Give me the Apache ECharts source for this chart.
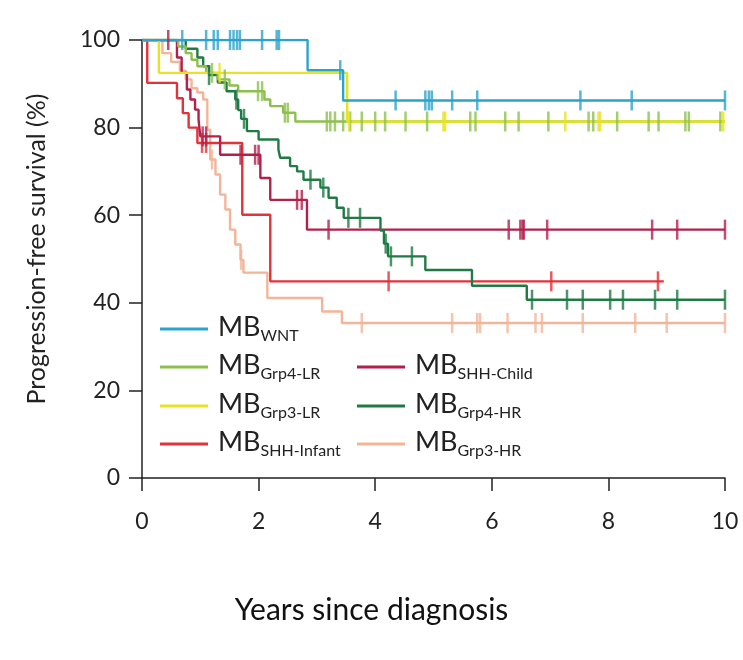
<!DOCTYPE html>
<html>
<head>
<meta charset="utf-8">
<script src="https://cdn.jsdelivr.net/npm/echarts@6/dist/echarts.min.js"></script>
<style>
  html, body { margin: 0; padding: 0; background: #fff; }
  #chart { width: 743px; height: 660px; }
</style>
</head>
<body>
<div id="chart"></div>
<script>
// axis ticks
let xTicks = [0, 2, 4, 6, 8, 10];
let yTicks = [0, 20, 40, 60, 80, 100];

// Kaplan-Meier steps [years, % PFS] and censor marks
let wntSteps = [[0,100],[2.84,93.1],[3.45,86.2],[10,86.2]];
let wntCensor = [[0.69,100],[1.1,100],[1.23,100],[1.3,100],[1.51,100],[1.57,100],[1.63,100],[1.68,100],[2.06,100],[2.31,100],[2.35,100],
  [3.4,93.1],[4.35,86.2],[4.86,86.2],[4.92,86.2],[4.97,86.2],[5.32,86.2],[5.75,86.2],[7.52,86.2],[8.4,86.2],[10,86.2]];

let grp4lrSteps = [[0,100],[0.62,98.5],[0.75,97],[0.85,95.5],[0.95,94],[1.1,92.5],[1.3,91],[1.5,89.6],[1.65,88.3],[2.1,86.4],[2.2,84.9],[2.42,83.4],[2.63,81.4],[10,81.4]];
let grp4lrCensor = [[1.2,92.5],[1.42,91],[1.99,88.3],[2.06,88.3],[2.45,83.4],[2.5,83.4],[3.17,81.4],[3.23,81.4],[3.31,81.4],[3.45,81.4],[3.57,81.4],[3.77,81.4],
  [4.0,81.4],[4.17,81.4],[4.52,81.4],[4.89,81.4],[5.63,81.4],[5.72,81.4],[6.23,81.4],[6.46,81.4],[6.97,81.4],[7.66,81.4],[7.74,81.4],[8.15,81.4],
  [8.69,81.4],[8.86,81.4],[9.32,81.4],[9.38,81.4],[9.92,81.4]];

let grp3lrSteps = [[0,100],[0.29,92.5],[3.52,81.4],[10,81.4]];
let grp3lrCensor = [[1.33,92.5],[3.55,81.4],[5.17,81.4],[5.2,81.4],[7.26,81.4],[7.83,81.4],[7.86,81.4],[9.97,81.4]];

let shhInfantSteps = [[0,100],[0.09,90.2],[0.6,86.7],[0.7,83.3],[0.8,80],[0.95,76.5],[1.72,60.1],[2.2,44.9],[8.95,44.9]];
let shhInfantCensor = [[1.03,76.5],[1.1,76.5],[4.23,44.9],[7.02,44.9],[8.85,44.9]];

let shhChildSteps = [[0,100],[0.6,96],[0.68,92.5],[0.77,88.7],[0.83,86.4],[0.91,84.1],[0.97,81.8],[1.0,78],[1.34,73.8],[2.03,68.5],[2.2,63.5],[2.83,56.7],[10,56.7]];
let shhChildCensor = [[0.45,100],[1.04,78],[1.1,78],[1.69,73.8],[1.94,73.8],[2.0,73.8],[2.66,63.5],[2.74,63.5],[3.2,56.7],[6.29,56.7],[6.49,56.7],
  [6.53,56.7],[6.55,56.7],[6.95,56.7],[8.75,56.7],[9.18,56.7],[10,56.7]];

let grp4hrSteps = [[0,100],[0.75,98],[0.95,96],[1.05,94],[1.15,92],[1.3,90.3],[1.45,88.3],[1.6,86.4],[1.65,84],[1.7,82],[1.8,79.2],[2.0,77.3],
  [2.34,75],[2.37,73.1],[2.54,71.2],[2.66,70],[2.77,68.1],[3.06,66.3],[3.2,64],[3.34,61.7],[3.46,59.4],[4.09,56.5],[4.15,53.5],[4.22,50.6],
  [4.86,47.5],[5.66,43.9],[6.6,40.7],[10,40.7]];
let grp4hrCensor = [[1.15,92],[1.62,86.4],[1.75,82],[2.89,68.1],[3.11,66.3],[3.54,59.4],[3.74,59.4],[4.18,53.5],[4.27,50.6],[4.63,50.6],
  [6.69,40.7],[7.29,40.7],[7.56,40.7],[8.03,40.7],[8.25,40.7],[8.8,40.7],[9.18,40.7],[10,40.7]];

let grp3hrSteps = [[0,100],[0.35,97],[0.5,95],[0.65,93],[0.75,91],[0.85,89],[0.95,88],[1.05,86.4],[1.12,79.5],[1.17,72.7],[1.26,69.3],
  [1.34,64.7],[1.43,61.3],[1.51,56.7],[1.6,53.3],[1.69,49.8],[1.74,46.9],[2.15,41.1],[3.09,38],[3.43,35.4],[10,35.4]];
let grp3hrCensor = [[1.2,72.7],[1.7,49.8],[3.77,35.4],[5.32,35.4],[5.75,35.4],[5.8,35.4],[6.27,35.4],[6.75,35.4],[6.86,35.4],[7.56,35.4],
  [8.46,35.4],[9.0,35.4],[10,35.4]];

let groups = [
  { name: 'MB_Grp3-HR', color: '#f3b597', steps: grp3hrSteps, censor: grp3hrCensor },
  { name: 'MB_SHH-Infant', color: '#e2323a', steps: shhInfantSteps, censor: shhInfantCensor },
  { name: 'MB_SHH-Child', color: '#b2204c', steps: shhChildSteps, censor: shhChildCensor },
  { name: 'MB_Grp4-HR', color: '#1f7a45', steps: grp4hrSteps, censor: grp4hrCensor },
  { name: 'MB_Grp4-LR', color: '#8cc04c', steps: grp4lrSteps, censor: grp4lrCensor },
  { name: 'MB_Grp3-LR', color: '#e8e224', steps: grp3lrSteps, censor: grp3lrCensor },
  { name: 'MB_WNT', color: '#2aa4cb', steps: wntSteps, censor: wntCensor }
];

let font = 'Lato, "Open Sans", sans-serif';
let chart = echarts.init(document.getElementById('chart'));

let series = [];
groups.forEach(function (g, i) {
  series.push({
    name: g.name, type: 'line', step: 'end', showSymbol: false, z: 2 + i,
    color: g.color, lineStyle: { width: 2.4, color: g.color }, data: g.steps
  });
});
groups.forEach(function (g, i) {
  series.push({
    name: g.name, type: 'scatter', symbol: 'rect', symbolSize: [2.5, 20], z: 10 + i,
    color: g.color, itemStyle: { color: g.color }, data: g.censor
  });
});

// legend: two columns inside the plot
let legendSlots = [
  ['MB_WNT', 160, 331], ['MB_Grp4-LR', 160, 369], ['MB_Grp3-LR', 160, 408], ['MB_SHH-Infant', 160, 446],
  ['MB_SHH-Child', 357, 369], ['MB_Grp4-HR', 357, 408], ['MB_Grp3-HR', 357, 446]
];
let legends = legendSlots.map(function (s) {
  return {
    data: [s[0]], left: s[1], top: s[2] - 17, icon: 'rect', itemWidth: 48, itemHeight: 3,
    padding: 0, selectedMode: false,
    formatter: function (name) {
      return '{a|MB}{s|' + name.slice(3) + '}';
    },
    textStyle: {
      rich: {
        a: { fontFamily: font, fontSize: 27, color: '#222', lineHeight: 30, padding: [0, 0, 4, 5], verticalAlign: 'top' },
        s: { fontFamily: font, fontSize: 16, color: '#222', lineHeight: 16, verticalAlign: 'bottom' }
      }
    }
  };
});

let option = {
  animation: false,
  backgroundColor: '#fff',
  title: {
    text: 'Years since diagnosis', left: 'center', top: 590,
    textStyle: { fontFamily: font, fontSize: 30, fontWeight: 'normal', color: '#111' }
  },
  grid: { left: 142, right: 18, top: 40, bottom: 182 },
  legend: legends,
  xAxis: {
    type: 'value', min: 0, max: 10, interval: 2,
    axisLine: { show: true, lineStyle: { color: '#222', width: 1.5 } },
    axisTick: { show: true, length: 13, lineStyle: { color: '#222', width: 1.5 } },
    axisLabel: { fontFamily: font, fontSize: 23, color: '#222', margin: 32,
      formatter: function (v) { return xTicks.indexOf(v) >= 0 ? String(v) : ''; } },
    splitLine: { show: false }
  },
  yAxis: {
    type: 'value', min: 0, max: 100, interval: 20,
    name: 'Progression-free survival (%)', nameLocation: 'middle', nameGap: 93,
    nameTextStyle: { fontFamily: font, fontSize: 25, color: '#222', padding: [0, 0, 0, 20] },
    axisLine: { show: true, lineStyle: { color: '#222', width: 1.5 } },
    axisTick: { show: true, length: 13, lineStyle: { color: '#222', width: 1.5 } },
    axisLabel: { fontFamily: font, fontSize: 23, color: '#222', margin: 22,
      formatter: function (v) { return yTicks.indexOf(v) >= 0 ? String(v) : ''; } },
    splitLine: { show: false }
  },
  series: series
};

chart.setOption(option);
</script>
</body>
</html>
